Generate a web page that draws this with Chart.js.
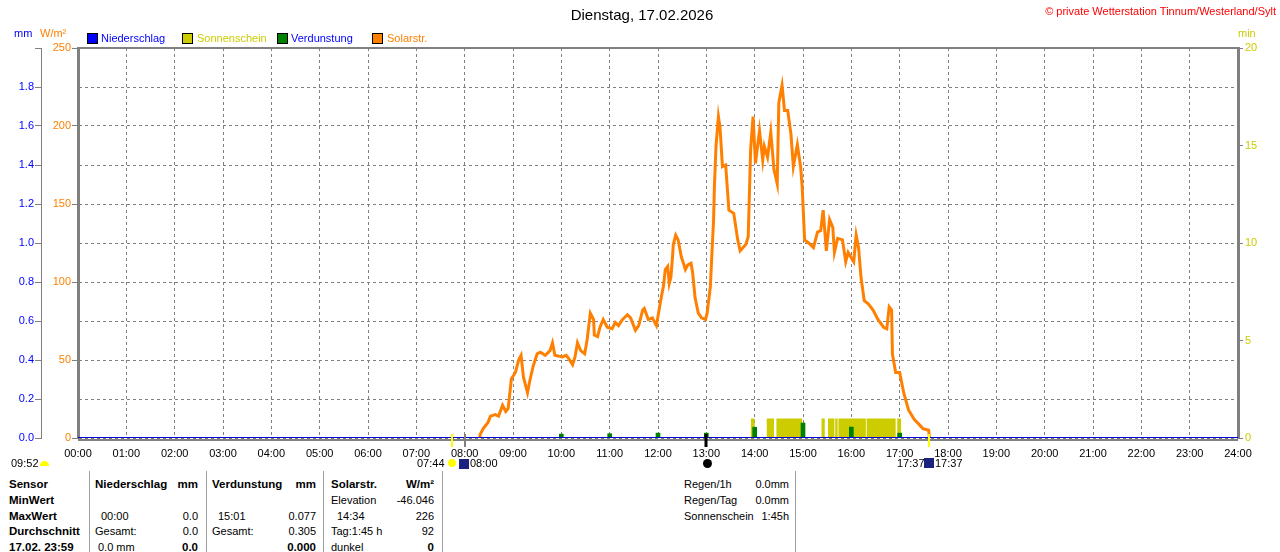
<!DOCTYPE html>
<html>
<head>
<meta charset="utf-8">
<script src="https://cdn.jsdelivr.net/npm/chart.js@4/dist/chart.umd.min.js"></script>
<style>
    body { margin: 0; width: 1280px; height: 552px; overflow: hidden; background: #fff; font-family: 'Liberation Sans', Arial, sans-serif; font-size: 11px; position: relative; }
    #chart { position: absolute; left: 0; top: 0; }
    .t { position: absolute; white-space: nowrap; line-height: 13px; }
    .r { text-align: right; }
    .b { font-weight: bold; font-size: 11.5px; }
    .sq { position: absolute; width: 9px; height: 9px; border: 1px solid #000; }
    .sep { position: absolute; top: 471px; width: 1px; height: 81px; background: #a0a0a0; }
</style>
</head>
<body>
<canvas id="chart" width="1280" height="470"></canvas>

<div class="t" style="left:0;width:1284px;text-align:center;top:6px;font-size:15px;line-height:18px;">Dienstag, 17.02.2026</div>
<div class="t" style="right:4px;top:5px;color:#ff0000;">© private Wetterstation Tinnum/Westerland/Sylt</div>

<div class="t" style="left:14px;top:27px;color:#0000ff;">mm</div>
<div class="t" style="left:40px;top:27px;color:#ff8000;">W/m²</div>
<div class="t" style="left:1238px;top:27px;color:#cccc00;">min</div>

<div class="sq" style="left:87px;top:33px;background:#0000ff;"></div>
<div class="t" style="left:101px;top:32px;color:#0000ff;">Niederschlag</div>
<div class="sq" style="left:182px;top:33px;background:#cccc00;"></div>
<div class="t" style="left:197px;top:32px;color:#cccc00;">Sonnenschein</div>
<div class="sq" style="left:277px;top:33px;background:#008000;"></div>
<div class="t" style="left:291px;top:32px;color:#0000ff;">Verdunstung</div>
<div class="sq" style="left:372px;top:33px;background:#ff8000;"></div>
<div class="t" style="left:387px;top:32px;color:#ff8000;">Solarstr.</div>

<!-- Sonnenauf-/untergang -->
<div class="t" style="left:11px;top:457px;">09:52</div>
<div style="position:absolute;left:40px;top:461px;width:9px;height:5px;background:#ffff00;border-radius:5px 5px 0 0;"></div>
<div class="t" style="left:417px;top:457px;">07:44</div>
<div style="position:absolute;left:448px;top:459px;width:8px;height:8px;background:#ffff00;border-radius:50%;"></div>
<div style="position:absolute;left:459px;top:459px;width:10px;height:10px;background:#1a237e;"></div>
<div class="t" style="left:470px;top:457px;">08:00</div>
<div style="position:absolute;left:703px;top:459px;width:9px;height:9px;background:#000;border-radius:50%;"></div>
<div class="t" style="left:897px;top:457px;">17:37</div>
<div style="position:absolute;left:924px;top:458px;width:10px;height:10px;background:#1a237e;"></div>
<div class="t" style="left:935px;top:457px;">17:37</div>

<!-- Tabelle -->
<div class="sep" style="left:89px;"></div>
<div class="sep" style="left:206px;"></div>
<div class="sep" style="left:323px;"></div>
<div class="sep" style="left:442px;"></div>
<div class="sep" style="left:795px;"></div>

<div class="t b" style="left:9px;top:478px;">Sensor</div>
<div class="t b" style="left:9px;top:494px;">MinWert</div>
<div class="t b" style="left:9px;top:510px;">MaxWert</div>
<div class="t b" style="left:9px;top:525px;">Durchschnitt</div>
<div class="t b" style="left:9px;top:541px;">17.02. 23:59</div>

<div class="t b" style="left:95px;top:478px;">Niederschlag</div>
<div class="t b r" style="right:1082px;top:478px;">mm</div>
<div class="t" style="left:101px;top:510px;">00:00</div>
<div class="t r" style="right:1082px;top:510px;">0.0</div>
<div class="t" style="left:95px;top:525px;">Gesamt:</div>
<div class="t r" style="right:1082px;top:525px;">0.0</div>
<div class="t" style="left:98px;top:541px;">0.0 mm</div>
<div class="t b r" style="right:1082px;top:541px;">0.0</div>

<div class="t b" style="left:212px;top:478px;">Verdunstung</div>
<div class="t b r" style="right:964px;top:478px;">mm</div>
<div class="t" style="left:218px;top:510px;">15:01</div>
<div class="t r" style="right:964px;top:510px;">0.077</div>
<div class="t" style="left:212px;top:525px;">Gesamt:</div>
<div class="t r" style="right:964px;top:525px;">0.305</div>
<div class="t b r" style="right:964px;top:541px;">0.000</div>

<div class="t b" style="left:331px;top:478px;">Solarstr.</div>
<div class="t b r" style="right:846px;top:478px;">W/m²</div>
<div class="t" style="left:331px;top:494px;">Elevation</div>
<div class="t r" style="right:846px;top:494px;">-46.046</div>
<div class="t" style="left:337px;top:510px;">14:34</div>
<div class="t r" style="right:846px;top:510px;">226</div>
<div class="t" style="left:331px;top:525px;">Tag:1:45 h</div>
<div class="t r" style="right:846px;top:525px;">92</div>
<div class="t" style="left:331px;top:541px;">dunkel</div>
<div class="t b r" style="right:846px;top:541px;">0</div>

<div class="t" style="left:684px;top:478px;">Regen/1h</div>
<div class="t r" style="right:491px;top:478px;">0.0mm</div>
<div class="t" style="left:684px;top:494px;">Regen/Tag</div>
<div class="t r" style="right:491px;top:494px;">0.0mm</div>
<div class="t" style="left:684px;top:510px;">Sonnenschein</div>
<div class="t r" style="right:491px;top:510px;">1:45h</div>

<script>
// Solarstrahlung W/m2
const solarTimes = [
    '08:18', '08:19', '08:23', '08:29', '08:32', '08:38', '08:42', '08:47', '08:51', '08:54',
    '08:58', '09:03', '09:07', '09:10', '09:13', '09:18', '09:21', '09:25', '09:30', '09:34',
    '09:40', '09:46', '09:49', '09:52', '10:01', '10:06', '10:09', '10:14', '10:17', '10:20',
    '10:24', '10:29', '10:32', '10:36', '10:40', '10:41', '10:45', '10:48', '10:52', '10:57',
    '11:03', '11:07', '11:11', '11:16', '11:22', '11:26', '11:32', '11:36', '11:41', '11:43',
    '11:48', '11:53', '11:58', '12:00', '12:04', '12:07', '12:09', '12:12', '12:14', '12:16',
    '12:18', '12:19', '12:22', '12:25', '12:29', '12:31', '12:34', '12:37', '12:41', '12:43',
    '12:46', '12:50', '12:54', '12:59', '13:01', '13:05', '13:07', '13:09', '13:10', '13:12',
    '13:15', '13:17', '13:20', '13:24', '13:28', '13:34', '13:39', '13:42', '13:49', '13:52',
    '13:55', '13:58', '14:01', '14:06', '14:10', '14:12', '14:16', '14:20', '14:24', '14:28',
    '14:30', '14:34', '14:37', '14:41', '14:45', '14:48', '14:53', '14:57', '14:59', '15:02',
    '15:07', '15:13', '15:18', '15:22', '15:25', '15:29', '15:33', '15:37', '15:39', '15:43',
    '15:49', '15:53', '15:56', '16:03', '16:06', '16:09', '16:12', '16:16', '16:21', '16:27',
    '16:33', '16:40', '16:44', '16:47', '16:50', '16:51', '16:55', '17:00', '17:05', '17:11',
    '17:18', '17:29', '17:36', '17:37'
];
const solarValues = [
    0, 2, 6, 10, 14, 15, 14, 21, 17, 19,
    38, 42, 50, 53, 39, 29, 37, 46, 54, 55,
    53, 56, 61, 53, 52, 53, 51, 47, 52, 61,
    56, 54, 63, 80, 76, 66, 65, 71, 76, 71,
    70, 74, 72, 76, 79, 77, 69, 72, 82, 83,
    76, 77, 72, 78, 90, 98, 108, 110, 99, 103,
    116, 124, 130, 127, 116, 113, 108, 111, 112, 106,
    90, 80, 77, 76, 80, 97, 119, 140, 161, 187,
    206, 199, 174, 175, 146, 144, 127, 120, 124, 129,
    185, 206, 176, 197, 178, 187, 180, 196, 172, 163,
    215, 226, 210, 210, 195, 174, 188, 174, 161, 127,
    125, 122, 132, 133, 146, 120, 140, 135, 119, 128,
    127, 113, 119, 113, 130, 122, 103, 88, 86, 82,
    76, 71, 70, 84, 82, 54, 42, 42, 29, 18,
    12, 6, 5, 0
];

// Sonnenschein (min), Abschnitte mit Sonne
const sunStart = ['13:55', '14:15', '14:27', '15:23', '15:31', '15:40', '15:44', '16:19', '16:57'];
const sunEnd = ['14:00', '14:24', '14:59', '15:27', '15:39', '15:43', '16:18', '16:55', '17:02'];
const sunLevel = [1, 1, 1, 1, 1, 1, 1, 1, 1];

// Verdunstung mm
const evapTimes = ['10:00', '11:00', '12:00', '13:00', '14:00', '15:00', '16:00', '17:00'];
const evapValues = [0.020, 0.022, 0.025, 0.025, 0.055, 0.077, 0.056, 0.025];

// Niederschlag mm
const rainTimes = ['00:00', '03:00', '06:00', '09:00', '12:00', '15:00', '18:00', '21:00', '24:00'];
const rainValues = [0, 0, 0, 0, 0, 0, 0, 0, 0];

// Marker unter der Achse: Sonnenaufgang, Daemmerung, Mittag, Sonnenuntergang
const markTimes = ['07:44', '08:00', '13:00', '17:37'];
const markColors = ['#ffff00', '#808080', '#000000', '#ffff00'];

function toMin(t) {
    const parts = t.split(':').map(Number);
    return parts[0] * 60 + parts[1];
}

function hhmm(v) {
    const h = Math.round(v / 60);
    return (h < 10 ? '0' : '') + h + ':00';
}

const solarData = solarTimes.map((t, i) => ({ x: toMin(t), y: solarValues[i] }));
const evapData = evapTimes.map((t, i) => ({ x: toMin(t), y: evapValues[i] }));
const rainData = rainTimes.map((t, i) => ({ x: toMin(t), y: rainValues[i] }));
const sunData = [];
sunStart.forEach((t, i) => {
    sunData.push({ x: toMin(t), y: sunLevel[i] });
    sunData.push({ x: toMin(sunEnd[i]), y: 0 });
});

const GRID = '#808080';
const FONT = { family: "'Liberation Sans', Arial, sans-serif", size: 11 };

const framePlugin = {
    id: 'frame',
    afterDatasetsDraw(chart) {
        const { ctx, chartArea: a, scales } = chart;
        ctx.save();
        ctx.strokeStyle = GRID;
        ctx.lineWidth = 2;
        ctx.beginPath();
        ctx.moveTo(a.left, a.top);
        ctx.lineTo(a.right, a.top);
        ctx.moveTo(a.left, a.bottom + 2);
        ctx.lineTo(a.right, a.bottom + 2);
        ctx.stroke();
        markTimes.forEach((t, i) => {
            const x = Math.round(scales.x.getPixelForValue(toMin(t)));
            ctx.strokeStyle = markColors[i];
            ctx.lineWidth = i === 2 ? 3 : 2;
            ctx.beginPath();
            ctx.moveTo(x, a.bottom - 4);
            ctx.lineTo(x, a.bottom + 9);
            ctx.stroke();
        });
        ctx.restore();
    }
};

new Chart(document.getElementById('chart'), {
    type: 'line',
    data: {
        datasets: [
            {
                label: 'Niederschlag',
                data: rainData,
                yAxisID: 'y',
                borderColor: '#0000d0',
                borderWidth: 2,
                pointRadius: 0,
                order: 0
            },
            {
                label: 'Solarstr.',
                data: solarData,
                yAxisID: 'yW',
                borderColor: '#ff8000',
                borderWidth: 3,
                pointRadius: 0,
                tension: 0,
                order: 1
            },
            {
                type: 'bar',
                label: 'Verdunstung',
                data: evapData,
                yAxisID: 'y',
                backgroundColor: '#008000',
                barThickness: 4,
                order: 2
            },
            {
                label: 'Sonnenschein',
                data: sunData,
                yAxisID: 'ySun',
                stepped: 'before',
                fill: 'origin',
                backgroundColor: '#cccc00',
                borderWidth: 0,
                pointRadius: 0,
                order: 3
            }
        ]
    },
    options: {
        responsive: false,
        animation: false,
        layout: { padding: { top: 48, left: 0, right: 0, bottom: 0 } },
        plugins: {
            legend: { display: false },
            tooltip: { enabled: false }
        },
        scales: {
            x: {
                type: 'linear',
                min: 0,
                max: 1440,
                offset: false,
                afterFit(scale) { scale.height = 32; },
                grid: { color: GRID, drawTicks: false, offset: false },
                border: { display: false, dash: [3, 3] },
                ticks: {
                    stepSize: 60,
                    autoSkip: false,
                    maxRotation: 0,
                    padding: 9,
                    color: '#000',
                    font: FONT,
                    callback: v => hhmm(v)
                }
            },
            y: {
                position: 'left',
                weight: 1,
                min: 0,
                max: 2,
                afterFit(scale) { scale.width = 41; },
                grid: { color: GRID, tickColor: GRID, tickLength: 6, tickBorderDash: [] },
                border: { display: true, color: GRID, width: 1, dash: [3, 3] },
                ticks: {
                    stepSize: 0.2,
                    padding: 1,
                    color: '#0000ff',
                    font: FONT,
                    callback: v => (v >= 1.99 ? '' : v.toFixed(1))
                }
            },
            yW: {
                position: 'left',
                weight: 0,
                min: 0,
                max: 250,
                afterFit(scale) { scale.width = 37; },
                grid: { drawOnChartArea: false, tickColor: GRID, tickLength: 6 },
                border: { display: true, color: GRID, width: 3 },
                ticks: { stepSize: 50, padding: 1, color: '#ff8000', font: FONT }
            },
            ySun: {
                position: 'right',
                min: 0,
                max: 20,
                afterFit(scale) { scale.width = 42; },
                grid: { drawOnChartArea: false, tickColor: GRID, tickLength: 5 },
                border: { display: true, color: GRID, width: 3 },
                ticks: { stepSize: 5, padding: 2, color: '#cccc00', font: FONT }
            }
        }
    },
    plugins: [framePlugin]
});
</script>
</body>
</html>
